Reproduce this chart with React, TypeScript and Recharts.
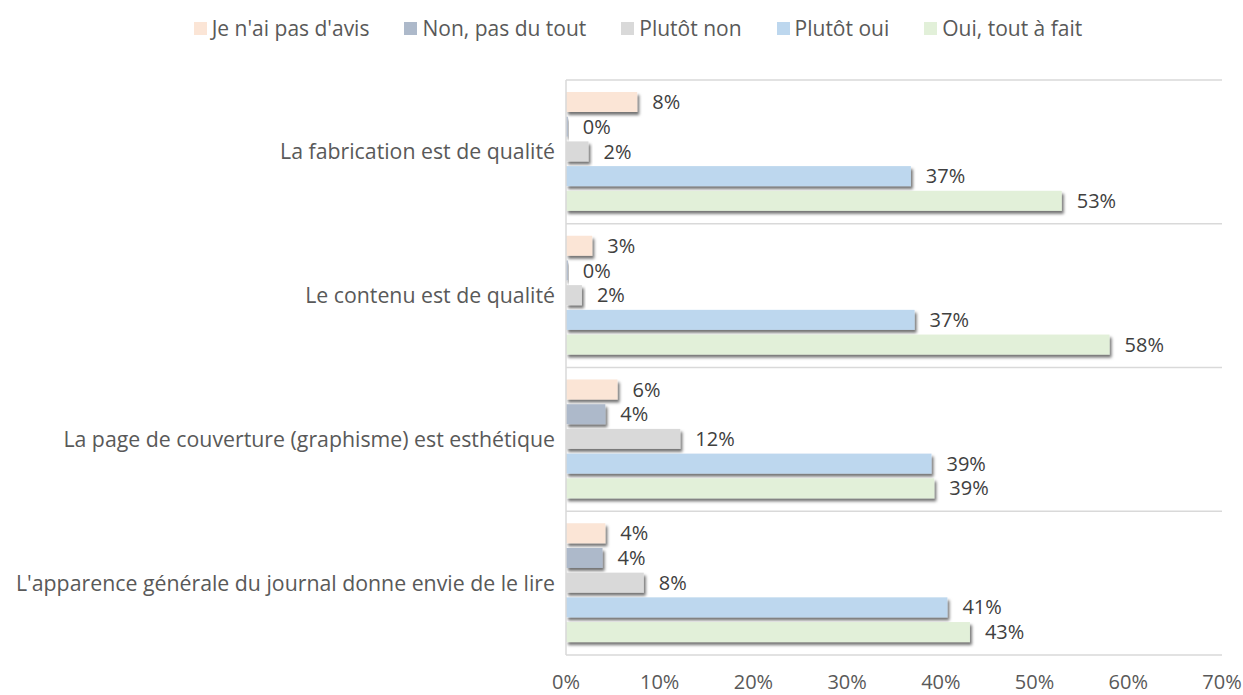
import { Bar, BarChart, CartesianGrid, LabelList, XAxis, YAxis } from 'recharts';

const categories = [
  'La fabrication est de qualité',
  'Le contenu est de qualité',
  'La page de couverture (graphisme) est esthétique',
  "L'apparence générale du journal donne envie de le lire",
];

const seriesNames = ["Je n'ai pas d'avis", 'Non, pas du tout', 'Plutôt non', 'Plutôt oui', 'Oui, tout à fait'];
const seriesColors = ['#fbe5d6', '#adb9ca', '#d9d9d9', '#bdd7ee', '#e2f0d9'];

const sansAvis = [7.6, 2.8, 5.5, 4.2];
const pasDuTout = [0.2, 0.2, 4.2, 3.9];
const plutotNon = [2.4, 1.7, 12.2, 8.3];
const plutotOui = [36.8, 37.2, 39.0, 40.7];
const toutAFait = [52.9, 58.0, 39.3, 43.1];

const xTicks = [0, 10, 20, 30, 40, 50, 60, 70];

const seriesValues = [sansAvis, pasDuTout, plutotNon, plutotOui, toutAFait];
const keys = ['s0', 's1', 's2', 's3', 's4'];

const data = categories.map((name, i) => {
  const row: Record<string, string | number> = { name };
  keys.forEach((k, s) => {
    row[k] = seriesValues[s][i];
  });
  return row;
});

const FONT = "'Open Sans', 'Noto Sans', sans-serif";

const ShadowBar = (props: any) => {
  const { x, y, width, height, fill } = props;
  if (width == null || height == null) return null;
  return <rect x={x} y={y} width={Math.max(width, 0)} height={height} fill={fill} filter='url(#barShadow)' />;
};

export default function App() {
  return (
    <div style={{ position: 'fixed', left: 0, top: 0, width: 1243, height: 695, background: '#fff', fontFamily: FONT, overflow: 'hidden' }}>
      <div
        style={{
          position: 'absolute',
          top: 13,
          left: 0,
          width: 1276,
          display: 'flex',
          justifyContent: 'center',
          gap: 35,
          fontSize: 21,
          lineHeight: '30px',
          color: '#595959',
        }}
      >
        {seriesNames.map((n, i) => (
          <span key={n} style={{ display: 'flex', alignItems: 'center', gap: 5 }}>
            <span style={{ display: 'inline-block', width: 13, height: 13, background: seriesColors[i] }} />
            {n}
          </span>
        ))}
      </div>
      <div style={{ position: 'absolute', left: 0, top: 0 }}>
        <BarChart
          width={1243}
          height={695}
          data={data}
          layout='vertical'
          margin={{ top: 80, right: 21, left: 0, bottom: 0 }}
          barCategoryGap={12}
          barGap={4.7}
        >
          <defs>
            <filter id='barShadow' x='-10%' y='-30%' width='130%' height='190%'>
              <feDropShadow dx='2' dy='3' stdDeviation='1.8' floodColor='#000' floodOpacity='0.55' />
            </filter>
          </defs>
          <CartesianGrid
            vertical={false}
            stroke='#d9d9d9'
            strokeWidth={1.5}
            horizontalCoordinatesGenerator={({ offset }: any) =>
              [0, 1, 2, 3, 4].map((i) => offset.top + (i * offset.height) / 4)
            }
          />
          <XAxis
            type='number'
            domain={[0, 70]}
            ticks={xTicks}
            tickFormatter={(v: number) => `${v}%`}
            axisLine={false}
            tickLine={false}
            tickSize={0}
            height={40}
            tickMargin={20}
            tick={{ fill: '#595959', fontSize: 20, fontFamily: FONT }}
          />
          <YAxis
            type='category'
            dataKey='name'
            width={566}
            axisLine={{ stroke: '#d9d9d9', strokeWidth: 1.5 }}
            tickLine={false}
            tickSize={0}
            tickMargin={11}
            interval={0}
            tick={{ fill: '#595959', fontSize: 21.3, fontFamily: FONT }}
          />
          {keys.map((k, i) => (
            <Bar key={k} dataKey={k} name={seriesNames[i]} fill={seriesColors[i]} shape={ShadowBar} isAnimationActive={false}>
              <LabelList
                dataKey={k}
                position='right'
                offset={15}
                formatter={(v: any) => `${Math.round(Number(v))}%`}
                style={{ fill: '#404040', fontSize: 20, fontFamily: FONT }}
              />
            </Bar>
          ))}
        </BarChart>
      </div>
    </div>
  );
}
